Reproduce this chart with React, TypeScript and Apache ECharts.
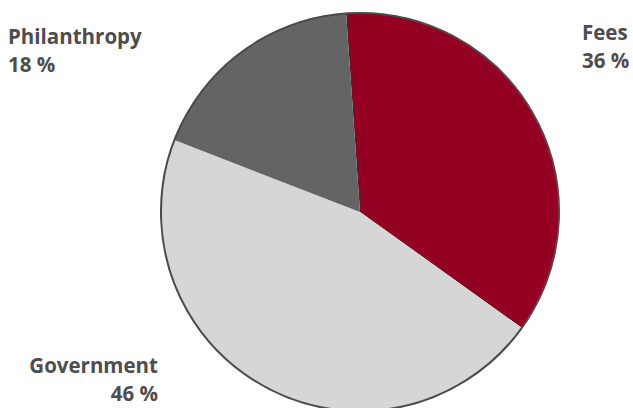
import React, { useEffect, useRef } from "react";
import * as echarts from "echarts";

const categories = ["Fees", "Government", "Philanthropy"];
const shares = [36, 46, 18];
const sliceColors = ["#930021", "#d6d6d6", "#646464"];

export default function App() {
  const ref = useRef<HTMLDivElement>(null);
  useEffect(() => {
    if (!ref.current) return;
    const chart = echarts.init(ref.current, null, { renderer: "svg" });
    const total = shares.reduce((a, b) => a + b, 0);
    const labelPos: Record<number, any> = {
      0: { x: 582, y: 18, align: "left", verticalAlign: "top" },
      1: { x: 158, y: 351, align: "right", verticalAlign: "top" },
      2: { x: 8, y: 22, align: "left", verticalAlign: "top" },
    };
    chart.setOption({
      animation: false,
      backgroundColor: "#ffffff",
      series: [
        {
          type: "pie",
          center: [360, 212],
          radius: 199,
          startAngle: 94,
          clockwise: true,
          silent: true,
          avoidLabelOverlap: false,
          data: categories.map((name, i) => ({
            name,
            value: shares[i],
            itemStyle: { color: sliceColors[i] },
          })),
          itemStyle: { borderWidth: 0 },
          label: {
            show: true,
            formatter: "{b}\n{c} %",
            fontFamily: "Open Sans",
            fontWeight: "bold",
            fontSize: 20.5,
            lineHeight: 28,
            color: "#4d4d4d",
          },
          labelLine: { show: false },
          labelLayout: (params: any) => labelPos[params.dataIndex],
        },
        {
          type: "pie",
          center: [360, 212],
          radius: 199,
          silent: true,
          label: { show: false },
          labelLine: { show: false },
          data: [
            {
              name: "outline",
              value: total,
              itemStyle: {
                color: "rgba(0,0,0,0)",
                borderColor: "#4a4a4a",
                borderWidth: 2,
              },
            },
          ],
        },
      ],
    });
    return () => chart.dispose();
  }, []);
  return (
    <div
      ref={ref}
      style={{ position: "absolute", left: 0, top: 0, width: 633, height: 408 }}
    />
  );
}
